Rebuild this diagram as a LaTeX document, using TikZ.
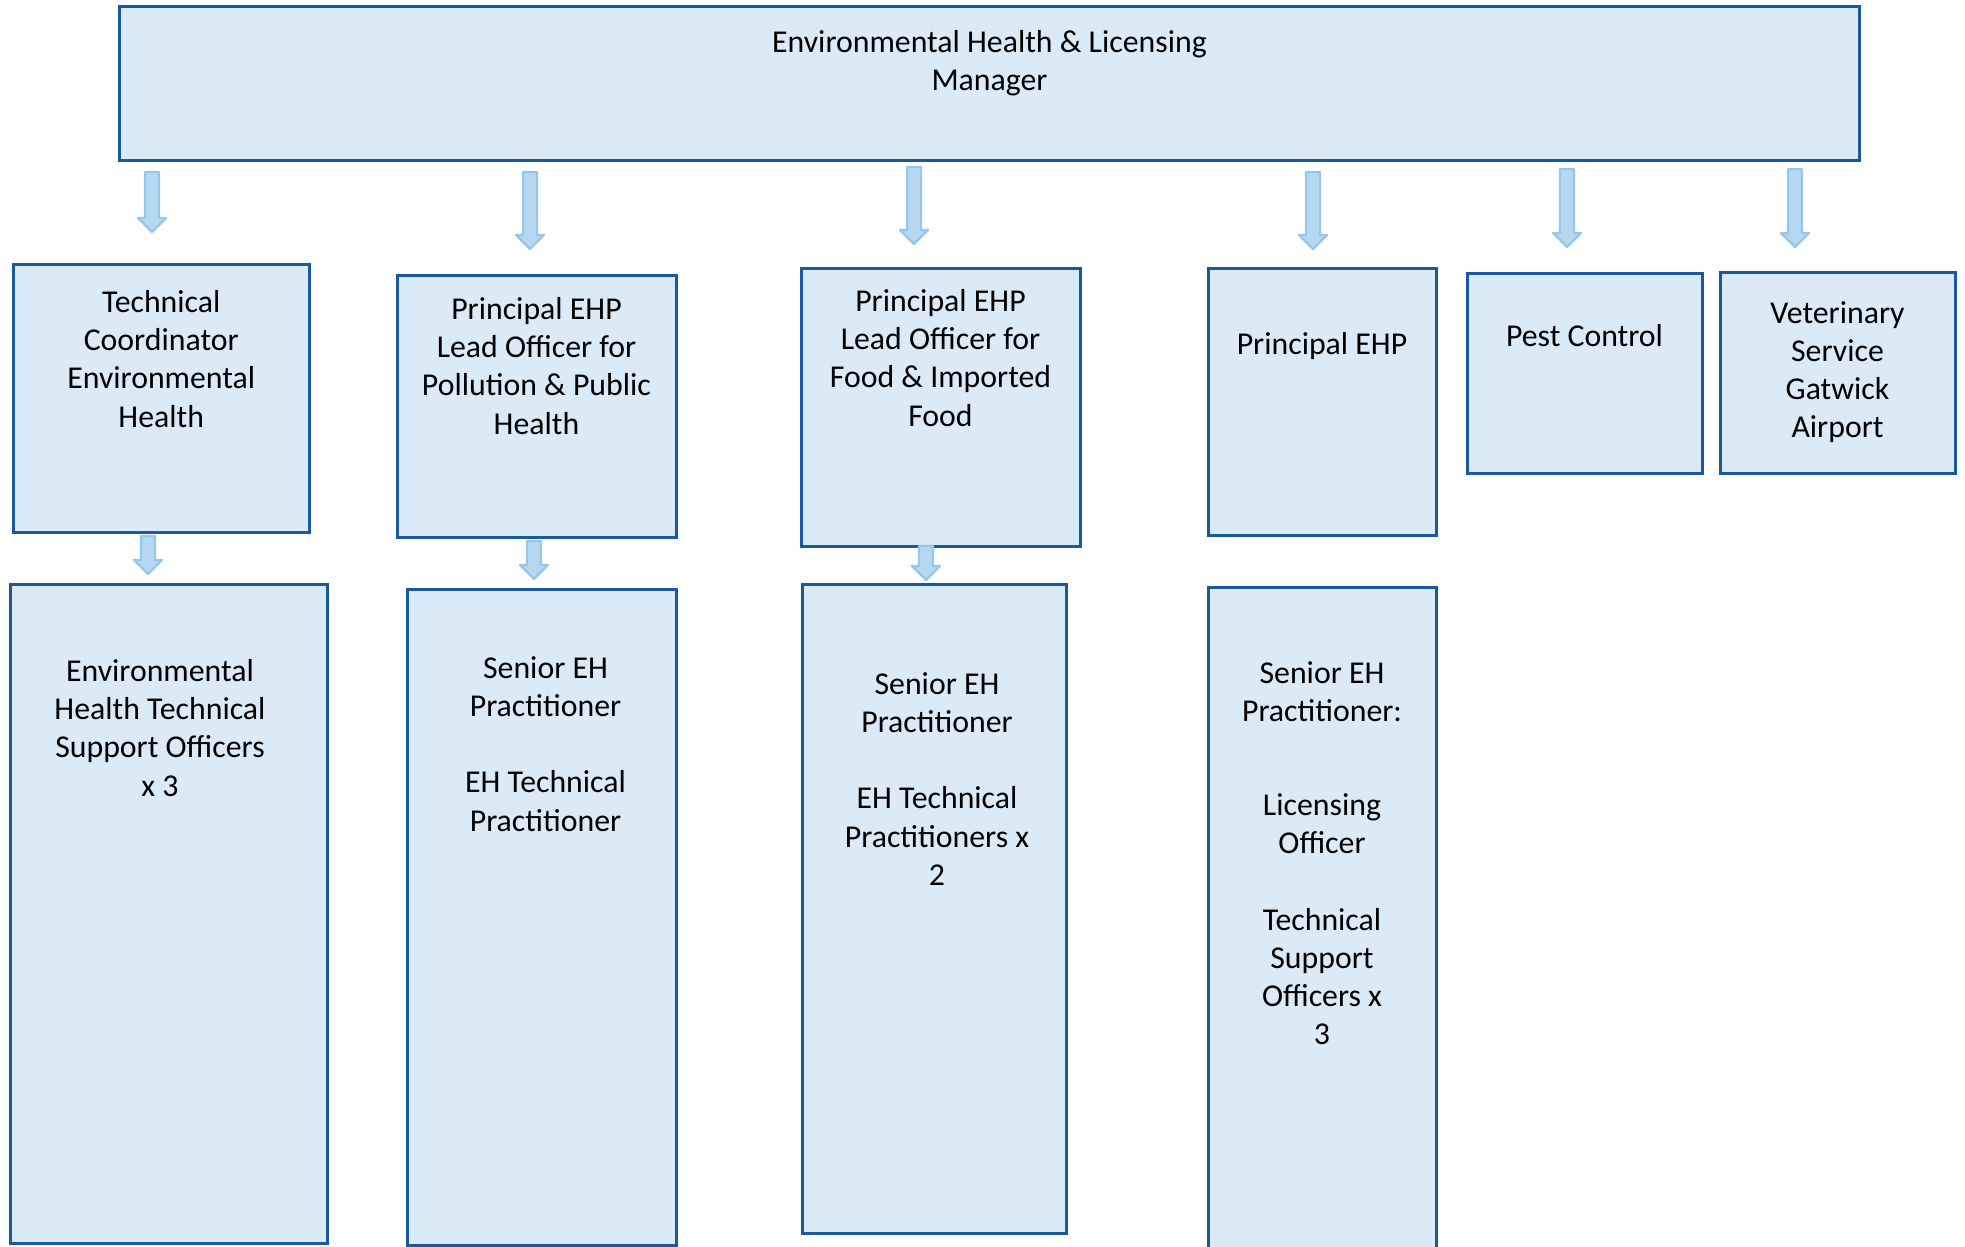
\documentclass[tikz,border=0pt]{standalone}
\usepackage{fontspec}
\setmainfont{Carlito}
\usetikzlibrary{positioning}

\definecolor{boxfill}{RGB}{219,234,247}
\definecolor{boxline}{RGB}{24,89,160}
\definecolor{arrfill}{RGB}{181,216,240}
\definecolor{arrline}{RGB}{150,199,234}

\tikzset{
  box/.style={rectangle, draw=boxline, fill=boxfill, line width=1.5pt, anchor=north west, inner sep=0pt},
  lbl/.style={align=center, inner sep=0pt, font=\fontsize{15.9pt}{19.1pt}\selectfont},
  blockarr/.style={fill=arrfill, draw=arrline, line width=1.2pt, line join=round}
}
% block arrow pointing down: x, top y, tip y (pixel units)
\newcommand{\downblock}[3]{%
  \filldraw[blockarr] (#1-7,#2) -- (#1+7,#2) -- (#1+7,#3-14) -- (#1+14,#3-14)
    -- (#1,#3) -- (#1-14,#3-14) -- (#1-7,#3-14) -- cycle;}

\begin{document}
\begin{tikzpicture}[x=0.5pt,y=-0.5pt]
\clip (0,0) rectangle (1965,1247);

\node[box, minimum width=870pt, minimum height=77pt] (mgr) at (118,5) {};
\node[lbl, below=12.5pt of mgr.north] (mgr_t) {Environmental Health \& Licensing\\Manager};

% second row
\node[box, minimum width=147.75pt, minimum height=134pt] (up1) at (12,263) {};
\node[box, minimum width=139.5pt, minimum height=131pt] (up2) at (395.5,274) {};
\node[box, minimum width=139.5pt, minimum height=139pt] (up3) at (799.5,267) {};
\node[box, minimum width=114pt, minimum height=133.5pt] (up4) at (1206.5,267) {};
\node[box, minimum width=117.5pt, minimum height=100pt] (up5) at (1465.5,272) {};
\node[box, minimum width=117.5pt, minimum height=100.5pt] (up6) at (1718.5,271) {};

\node[lbl, below=13.5pt of up1.north] (up1_t) {Technical\\Coordinator\\Environmental\\Health};
\node[lbl, below=11.5pt of up2.north] (up2_t) {Principal EHP\\Lead Officer for\\Pollution \& Public\\Health};
\node[lbl, below=11pt of up3.north] (up3_t) {Principal EHP\\Lead Officer for\\Food \& Imported\\Food};
\node[lbl, below=32.5pt of up4.north] (up4_t) {Principal EHP};
\node[lbl, below=26pt of up5.north] (up5_t) {Pest Control};
\node[lbl, below=15pt of up6.north] (up6_t) {Veterinary\\Service\\Gatwick\\Airport};

% third row
\node[box, minimum width=158.5pt, minimum height=329.5pt] (low1) at (9,583) {};
\node[box, minimum width=134.5pt, minimum height=328pt] (low2) at (405.5,588) {};
\node[box, minimum width=132pt, minimum height=324.5pt] (low3) at (800.5,583) {};
\node[box, minimum width=114pt, minimum height=345pt] (low4) at (1206.5,586) {};

\node[lbl, below=38pt of low1.north, xshift=-4.5pt] (low1_t) {Environmental\\Health Technical\\Support Officers\\x 3};
\node[lbl, below=34pt of low2.north, xshift=2pt] (low2_t) {Senior EH\\Practitioner\\[19.1pt]EH Technical\\Practitioner};
\node[lbl, below=44.5pt of low3.north, xshift=1.5pt] (low3_t) {Senior EH\\Practitioner\\[19.1pt]EH Technical\\Practitioners x\\2};
\node[lbl, below=37.5pt of low4.north] (low4_t) {Senior EH\\Practitioner:\\[28pt]Licensing\\Officer\\[19.1pt]Technical\\Support\\Officers x\\3};

% arrows
\downblock{152}{172}{232}
\downblock{530}{172}{249}
\downblock{914}{167}{244}
\downblock{1313}{172}{249}
\downblock{1567}{169}{247}
\downblock{1795}{169}{247}
\downblock{148}{536}{574}
\downblock{534}{541}{579}
\downblock{926}{546}{580}
\end{tikzpicture}
\end{document}
